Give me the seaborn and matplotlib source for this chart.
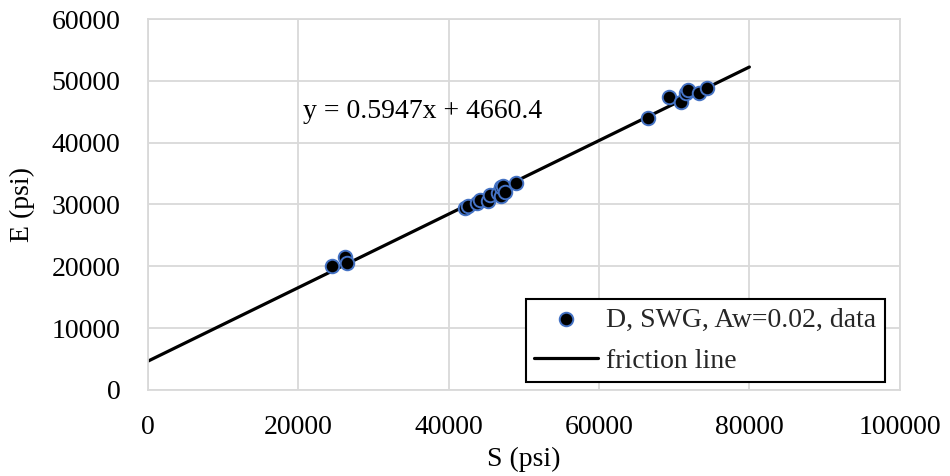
import matplotlib
matplotlib.use("Agg")
import matplotlib.pyplot as plt
import seaborn as sns
import numpy as np
import pandas as pd

S_data = [24450, 26180, 26450,
          42200, 42600, 43800, 44200, 45200, 45500, 46500, 46900, 47000, 47200, 47500, 48900,
          66450, 69240, 70960, 71630, 71890, 73350, 74420]
E_data = [20050, 21450, 20600,
          29400, 29800, 30300, 30700, 30500, 31600, 31800, 31300, 32800, 33000, 32000, 33400,
          43980, 47380, 46570, 48020, 48510, 48020, 48830]
slope = 0.5947
intercept = 4660.4
line_x = [0, 80000]
x_ticks = [0, 20000, 40000, 60000, 80000, 100000]
y_ticks = [0, 10000, 20000, 30000, 40000, 50000, 60000]
series_label = "D, SWG, Aw=0.02, data"
line_label = "friction line"
eq_text = "y = 0.5947x + 4660.4"

sns.set_theme(style="whitegrid")
plt.rcParams['font.family'] = ['Liberation Serif', 'DejaVu Serif']
FS = 20

fig = plt.figure(figsize=(9.5, 4.76), dpi=100)
ax = fig.add_axes([0.156, 0.181, 0.791, 0.779])

df = pd.DataFrame({"S": S_data, "E": E_data})
line_df = pd.DataFrame({"S": line_x, "E": [slope * v + intercept for v in line_x]})

sns.lineplot(data=line_df, x="S", y="E", ax=ax, color="black", linewidth=2.3,
             label=line_label, zorder=2)
sns.scatterplot(data=df, x="S", y="E", ax=ax, color="black", edgecolor="#4472C4",
                linewidth=1.4, s=95, label=series_label, zorder=3)

ax.set_xlim(0, 100000)
ax.set_ylim(0, 60000)
ax.set_xticks(x_ticks)
ax.set_yticks(y_ticks)
ax.tick_params(axis='x', labelsize=FS, length=0, pad=18, colors='black')
ax.tick_params(axis='y', labelsize=FS, length=0, pad=20, colors='black')
ax.grid(True, color="#d9d9d9", linewidth=1.3)
for sp in ax.spines.values():
    sp.set_color("#d9d9d9")
    sp.set_linewidth(1.3)
ax.set_xlabel("S (psi)", fontsize=FS, color='black', labelpad=5)
ax.set_ylabel("E (psi)", fontsize=FS, color='black', labelpad=12)

ax.text(20600, 45100, eq_text, fontsize=FS, color='black', va='center', ha='left')

handles, labels = ax.get_legend_handles_labels()
order = [labels.index(series_label), labels.index(line_label)]
leg = ax.legend([handles[i] for i in order], [labels[i] for i in order],
                loc="lower right", bbox_to_anchor=(0.980, 0.0216), fontsize=FS,
                frameon=True, fancybox=False, framealpha=1, edgecolor="black",
                handlelength=2.3, handletextpad=0.3, borderpad=0.3, labelspacing=0.55,
                borderaxespad=0)
leg.get_frame().set_linewidth(1.5)

fig.savefig("out.png", dpi=100)
